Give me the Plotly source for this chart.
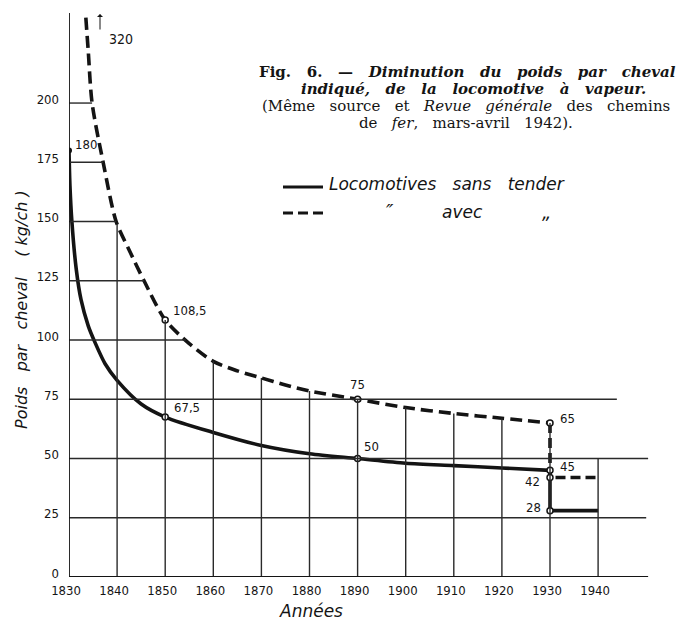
import numpy as np
import plotly.graph_objects as go

# ---------------- data ----------------
years_ticks = [1830, 1840, 1850, 1860, 1870, 1880, 1890, 1900, 1910, 1920, 1930, 1940]
y_ticks = [0, 25, 50, 75, 100, 125, 150, 175, 200]

# Locomotives sans tender (solid)
solid_years = [1830, 1830.2, 1830.6, 1831.5, 1832.5, 1834.0, 1835.4, 1837.5, 1840, 1845, 1850,
               1860, 1870, 1880, 1890, 1900, 1910, 1920, 1930]
solid_vals = [180, 165, 150, 130, 117, 106, 99, 90, 83, 73, 67.5,
              61, 55.5, 52, 50, 48, 47, 46, 45]
solid_step_years = [1930, 1930, 1940]
solid_step_vals = [45, 28, 28]

# Locomotives avec tender (dashed)
dashed_years = [1833.5, 1834.0, 1834.8, 1837.1, 1839.8, 1842.5, 1845.6, 1850, 1855,
                1860, 1865, 1870, 1875, 1880, 1890, 1900, 1910, 1920, 1930]
dashed_vals = [236, 222, 200, 175, 150, 138, 125, 108.5, 98.5,
               91, 87, 84, 81, 78.5, 75, 71.5, 69, 67, 65]
dashed_step_years = [1930, 1930, 1940]
dashed_step_vals = [65, 42, 42]

# labelled points
pt_years = [1850, 1850, 1890, 1890, 1930, 1930, 1930, 1930]
pt_vals = [108.5, 67.5, 75, 50, 65, 45, 42, 28]
pt_labels = ["108,5", "67,5", "75", "50", "65", "45", "42", "28"]
start_year, start_val, start_label = 1830, 180, "180"
off_chart_label = "320"

# ---------------- layout geometry ----------------
W, H = 680, 623
ML, MR, MT, MB = 69, 20, 13, 46
PW, PH = W - ML - MR, H - MT - MB
PX_PER_YEAR = 4.81
X0 = 1830
X1 = X0 + PW / PX_PER_YEAR
Y1 = 238


def px(xp):
    return (xp - ML) / PW


def py(yp):
    return (H - MB - yp) / PH


NB = "\u00a0"
INK = "#141414"
GRID = "#2a2a2a"
NARROW = "Liberation Sans Narrow, DejaVu Sans Condensed, Liberation Sans, sans-serif"
SERIF = "DejaVu Serif, Liberation Serif, serif"
HAND = "DejaVu Sans, Liberation Sans, sans-serif"


def spaced(s, n):
    return s.replace(" ", " " + NB * n)


def note(xp, yp, text, size, family, xanchor="center", **kw):
    return dict(x=px(xp), y=py(yp), xref="paper", yref="paper", text=text,
                showarrow=False, xanchor=xanchor, yanchor="middle",
                font=dict(family=family, size=size, color=INK), **kw)


fig = go.Figure()

# ---------------- grid (partial, ends on dashed curve) ----------------
shapes = []
dv_rev = np.array(dashed_vals[::-1], dtype=float)
dy_rev = np.array(dashed_years[::-1], dtype=float)
right_ends = {25: 1950.0, 50: 1950.4, 75: 1943.9}
for lv in y_ticks[1:]:
    if lv in right_ends:
        xe = right_ends[lv]
    else:
        xe = float(np.interp(lv, dv_rev, dy_rev))
    shapes.append(dict(type="line", xref="x", yref="y", x0=X0, x1=xe, y0=lv, y1=lv,
                       line=dict(color=GRID, width=1.4)))
for yr in years_ticks[1:]:
    if yr <= dashed_years[-1]:
        ye = float(np.interp(yr, dashed_years, dashed_vals))
    else:
        ye = 50
    shapes.append(dict(type="line", xref="x", yref="y", x0=yr, x1=yr, y0=0, y1=ye,
                       line=dict(color=GRID, width=1.4)))
# axes lines
shapes.append(dict(type="line", xref="x", yref="y", x0=X0, x1=1950.4, y0=0, y1=0,
                   line=dict(color=INK, width=2)))
shapes.append(dict(type="line", xref="x", yref="y", x0=X0, x1=X0, y0=0, y1=Y1,
                   line=dict(color=INK, width=1.8)))

# legend samples
shapes.append(dict(type="line", xref="paper", yref="paper", x0=px(283), x1=px(323),
                   y0=py(187), y1=py(187), line=dict(color=INK, width=3)))
shapes.append(dict(type="line", xref="paper", yref="paper", x0=px(283), x1=px(323),
                   y0=py(213), y1=py(213), line=dict(color=INK, width=3, dash="10px,5px")))

# ---------------- curves ----------------
fig.add_trace(go.Scatter(x=solid_years, y=solid_vals, mode="lines",
                         line=dict(color=INK, width=3.6, shape="spline", smoothing=0.8),
                         hoverinfo="skip", showlegend=False))
fig.add_trace(go.Scatter(x=solid_step_years, y=solid_step_vals, mode="lines",
                         line=dict(color=INK, width=3.6), hoverinfo="skip", showlegend=False))
fig.add_trace(go.Scatter(x=dashed_years, y=dashed_vals, mode="lines",
                         line=dict(color=INK, width=3.6, dash="12px,6px", shape="spline",
                                   smoothing=0.8),
                         hoverinfo="skip", showlegend=False))
fig.add_trace(go.Scatter(x=dashed_step_years, y=dashed_step_vals, mode="lines",
                         line=dict(color=INK, width=3.6, dash="10px,5px"),
                         hoverinfo="skip", showlegend=False))
fig.add_trace(go.Scatter(x=pt_years, y=pt_vals, mode="markers",
                         marker=dict(size=6, color="white", line=dict(color=INK, width=1.5)),
                         hoverinfo="skip", showlegend=False))
fig.add_trace(go.Scatter(x=[start_year], y=[start_val], mode="markers",
                         marker=dict(size=6, color=INK),
                         hoverinfo="skip", showlegend=False))

# ---------------- annotations ----------------
ann = []
offsets = [(24, 9), (22, 10), (0, 15), (14, 12), (17, 4), (17, 4), (-18, -4), (-17, 3)]
for x, y, t, (dx, dy) in zip(pt_years, pt_vals, pt_labels, offsets):
    ann.append(dict(x=x, y=y, xref="x", yref="y", text=t, showarrow=False,
                    xanchor="center", yanchor="middle",
                    xshift=dx, yshift=dy, font=dict(family=NARROW, size=13, color=INK)))
ann.append(dict(x=start_year, y=start_val, xref="x", yref="y", text=start_label,
                showarrow=False, xanchor="center", yanchor="middle", xshift=17, yshift=6,
                font=dict(family=NARROW, size=13, color=INK)))
# off-chart arrow and value
ann.append(dict(x=px(100), y=py(14), xref="paper", yref="paper", text="", showarrow=True,
                ax=0, ay=17, arrowhead=1, arrowsize=1, arrowwidth=1, arrowcolor=INK))
ann.append(note(121, 39, off_chart_label, 14, NARROW))

# title block
ann.append(note(678, 72, "<b>" + spaced("Fig. 6. — ", 2) + "<i>" +
                spaced("Diminution du poids par cheval", 2) + "</i></b>", 15, SERIF,
                xanchor="right"))
ann.append(note(474, 89, "<b><i>" + spaced("indiqué, de la locomotive à vapeur.", 2) +
                "</i></b>", 15, SERIF))
ann.append(note(466, 106, spaced("(Même source et ", 2) + "<i>" + spaced("Revue générale", 2) +
                "</i>" + spaced(" des chemins", 2), 15, SERIF))
ann.append(note(466, 123, "de" + NB * 2 + " <i>fer</i>," + NB * 2 + " mars-avril" + NB * 2 +
                " 1942).", 15, SERIF))

# legend texts
ann.append(note(327, 184, "<i>" + spaced("Locomotives sans tender", 2) + "</i>", 17, HAND,
                xanchor="left"))
ann.append(note(390, 211, "<i>″</i>", 20, HAND))
ann.append(note(462, 212, "<i>avec</i>", 17, HAND))
ann.append(note(546, 212, "<i>„</i>", 18, HAND))

# axis titles
ann.append(note(311, 611, "<i>Années</i>", 17, HAND))
ann.append(note(21, 310, "<i>" + spaced("Poids par cheval", 2) + NB * 3 + " ( kg/ch )</i>",
                16, HAND, textangle=-90))

fig.update_layout(
    width=W, height=H,
    margin=dict(l=ML, r=MR, t=MT, b=MB),
    paper_bgcolor="white", plot_bgcolor="white",
    shapes=shapes, annotations=ann,
    xaxis=dict(range=[X0, X1], tickvals=years_ticks, ticktext=[str(v) for v in years_ticks],
               showgrid=False, zeroline=False, showline=False, ticks="", automargin=False,
               tickfont=dict(family=NARROW, size=13, color=INK), ticklabelstandoff=4,
               ticklabelshift=-3, fixedrange=True),
    yaxis=dict(range=[0, Y1], tickvals=y_ticks, ticktext=[str(v) for v in y_ticks],
               showgrid=False, zeroline=False, showline=False, ticks="", automargin=False,
               tickfont=dict(family=NARROW, size=13, color=INK), ticklabelstandoff=9,
               ticklabelshift=-4, fixedrange=True),
)

fig.write_html("out.html", config={"displayModeBar": False},
               post_script="document.body.style.margin='0px';")
